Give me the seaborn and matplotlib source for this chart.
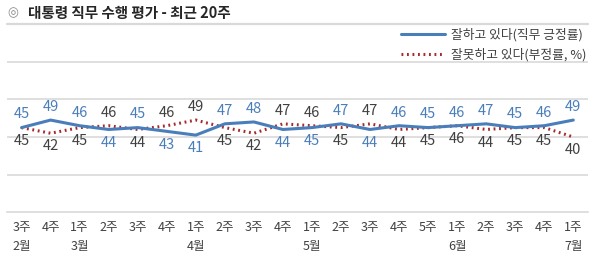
import matplotlib
matplotlib.use("Agg")
import matplotlib.pyplot as plt
from matplotlib.lines import Line2D
import seaborn as sns
import pandas as pd
import numpy as np

weeks = ["3주", "4주", "1주", "2주", "3주", "4주", "1주", "2주", "3주", "4주",
         "1주", "2주", "3주", "4주", "5주", "1주", "2주", "3주", "4주", "1주"]
months = ["2월", "", "3월", "", "", "", "4월", "", "", "",
          "5월", "", "", "", "", "6월", "", "", "", "7월"]
positive = [45, 49, 46, 44, 45, 43, 41, 47, 48, 44, 45, 47, 44, 46, 45, 46, 47, 45, 46, 49]
negative = [45, 42, 45, 46, 44, 46, 49, 45, 42, 47, 46, 45, 47, 44, 45, 46, 44, 45, 45, 40]
series_names = ["잘하고 있다(직무 긍정률)", "잘못하고 있다(부정률, %)"]
title = "대통령 직무 수행 평가 - 최근 20주"

sns.set_theme(style="white")
FONT = ["Noto Sans CJK KR", "DejaVu Sans"]
plt.rcParams["font.family"] = FONT

BLUE = "#4a7ebb"
RED = "#a52a2a"
GRID = "#d9d9d9"
TXT = "#404040"

x = np.arange(len(positive))
df = pd.DataFrame({"x": x, "pos": positive, "neg": negative})

fig = plt.figure(figsize=(6.0, 2.65), dpi=100)
ax = fig.add_axes([0.0117, 0.199, 0.968, 0.710])

sns.lineplot(data=df, x="x", y="pos", ax=ax, color=BLUE, linewidth=2.2, zorder=3)
sns.lineplot(data=df, x="x", y="neg", ax=ax, color=RED, linewidth=2.2,
             linestyle=(0, (0.6, 1.2)), zorder=2)

ax.set_xlim(-0.5, len(x) - 0.5)
ax.set_ylim(0, 100)
ax.set_yticks([20, 40, 60, 80])
ax.yaxis.grid(True, color=GRID, linewidth=1.2)
ax.axhline(100, color=GRID, linewidth=1.6, clip_on=False, zorder=1)
ax.set_yticklabels([])
ax.tick_params(axis="y", length=0)
ax.set_xlabel("")
ax.set_ylabel("")
for s in ["left", "right", "top"]:
    ax.spines[s].set_visible(False)
ax.spines["bottom"].set_color(GRID)
ax.spines["bottom"].set_linewidth(1.2)

labels = [w + "\n" + m for w, m in zip(weeks, months)]
ax.set_xticks(x)
ax.set_xticklabels(labels, fontsize=9, color=TXT, linespacing=1.65)
ax.tick_params(axis="x", which="major", length=0, pad=6)
ax.set_xticks(np.arange(-0.5, len(x), 1.0), minor=True)
ax.tick_params(axis="x", which="minor", length=4, color=GRID, width=1.2)

for i, (p, n) in enumerate(zip(positive, negative)):
    if p >= n:
        po, no = 9.5, -9.5
    else:
        po, no = -9.5, 9.5
    ax.annotate(str(p), (i, p), xytext=(0, po), textcoords="offset points",
                ha="center", va="center", fontsize=10.5, color=BLUE)
    ax.annotate(str(n), (i, n), xytext=(0, no), textcoords="offset points",
                ha="center", va="center", fontsize=10.5, color=TXT)

handles = [Line2D([], [], color=BLUE, linewidth=2.2),
           Line2D([], [], color=RED, linewidth=2.2, linestyle=(0, (0.6, 1.2)))]
leg = fig.legend(handles, series_names, loc="upper right", bbox_to_anchor=(0.985, 0.915),
                 frameon=False, fontsize=9.2, handlelength=3.4, handletextpad=0.45,
                 labelspacing=0.55, borderaxespad=0)
for t in leg.get_texts():
    t.set_color(TXT)

fig.text(0.013, 0.952, "◎", fontsize=9, color="#888888", va="center", ha="left",
         family=["DejaVu Sans"])
fig.text(0.046, 0.952, title, fontsize=10.5, fontweight="bold", color="#262626",
         va="center", ha="left")

fig.savefig("out.png", dpi=100)
